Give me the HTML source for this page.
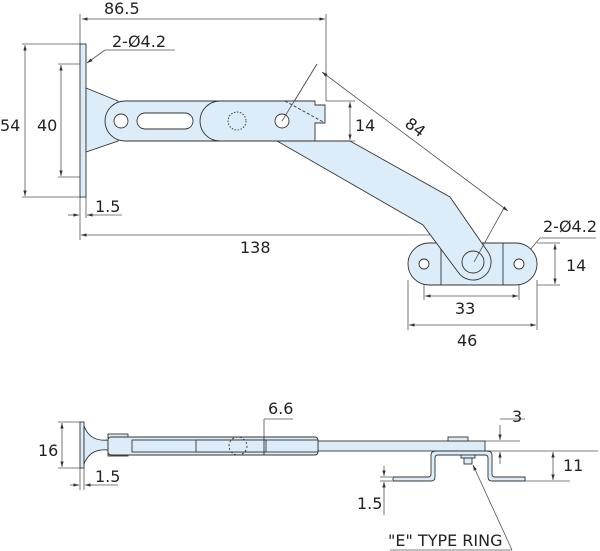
<!DOCTYPE html>
<html><head><style>
html,body{margin:0;padding:0;background:#fff;}
svg{display:block;}
text{font-family:"DejaVu Sans","Liberation Sans",sans-serif;font-size:16px;fill:#222;}
</style></head><body>
<svg width="600" height="551" viewBox="0 0 600 551" xmlns="http://www.w3.org/2000/svg">
<defs>
<marker id="a" viewBox="0 0 10 10" refX="10" refY="5" markerWidth="7" markerHeight="7" orient="auto-start-reverse"><path d="M0,2 L10,5 L0,8 z" fill="#333"/></marker>
</defs>
<g stroke="#555" stroke-width="0.8" fill="none">
<line x1="80" y1="14" x2="80" y2="44"/><line x1="326" y1="14" x2="326" y2="101"/>
<line x1="82" y1="19" x2="325" y2="19" marker-start="url(#a)" marker-end="url(#a)"/>
<line x1="22" y1="44" x2="80" y2="44"/><line x1="22" y1="197" x2="80" y2="197"/>
<line x1="25" y1="45" x2="25" y2="196" marker-start="url(#a)" marker-end="url(#a)"/>
<line x1="58" y1="64" x2="80" y2="64"/><line x1="58" y1="177" x2="80" y2="177"/>
<line x1="61" y1="65" x2="61" y2="176" marker-start="url(#a)" marker-end="url(#a)"/>
<line x1="175" y1="50" x2="105" y2="50"/><line x1="105" y1="50" x2="87" y2="63" marker-end="url(#a)"/>
<line x1="80" y1="197" x2="80" y2="240"/><line x1="86" y1="197" x2="86" y2="218"/>
<line x1="68" y1="215" x2="79" y2="215" marker-end="url(#a)"/><line x1="98" y1="215" x2="87" y2="215" marker-end="url(#a)"/><line x1="98" y1="215" x2="122" y2="215"/>
<line x1="81" y1="235" x2="471" y2="235" marker-start="url(#a)" marker-end="url(#a)"/>
<line x1="326" y1="101" x2="355" y2="101"/><line x1="320" y1="141" x2="355" y2="141"/>
<line x1="350" y1="102" x2="350" y2="140" marker-start="url(#a)" marker-end="url(#a)"/>
<line x1="317" y1="64" x2="282" y2="121"/>
<line x1="322" y1="72" x2="508" y2="211" marker-start="url(#a)" marker-end="url(#a)"/>
<line x1="596" y1="238" x2="540" y2="238"/><line x1="540" y1="238" x2="507" y2="277"/>
<line x1="537" y1="243" x2="560" y2="243"/><line x1="537" y1="285" x2="560" y2="285"/>
<line x1="555" y1="244" x2="555" y2="284" marker-start="url(#a)" marker-end="url(#a)"/>
<line x1="424" y1="268" x2="424" y2="300"/><line x1="519" y1="268" x2="519" y2="300"/>
<line x1="425" y1="296" x2="518" y2="296" marker-start="url(#a)" marker-end="url(#a)"/>
<line x1="408" y1="280" x2="408" y2="330"/><line x1="537" y1="280" x2="537" y2="330"/>
<line x1="409" y1="325" x2="536" y2="325" marker-start="url(#a)" marker-end="url(#a)"/>
<line x1="58" y1="422" x2="80" y2="422"/><line x1="58" y1="468" x2="80" y2="468"/>
<line x1="62" y1="423" x2="62" y2="467" marker-start="url(#a)" marker-end="url(#a)"/>
<line x1="80" y1="468" x2="80" y2="490"/><line x1="84" y1="468" x2="84" y2="490"/>
<line x1="70" y1="485" x2="79" y2="485" marker-end="url(#a)"/><line x1="96" y1="485" x2="85" y2="485" marker-end="url(#a)"/><line x1="96" y1="485" x2="118" y2="485"/>
<line x1="264" y1="419" x2="293" y2="419"/><line x1="264" y1="419" x2="264" y2="454"/>
<line x1="485" y1="441" x2="520" y2="441"/><line x1="485" y1="451" x2="598" y2="451"/>
<line x1="500" y1="419" x2="525" y2="419"/>
<line x1="500" y1="425" x2="500" y2="440" marker-end="url(#a)"/><line x1="500" y1="464" x2="500" y2="452" marker-end="url(#a)"/>
<line x1="525" y1="481" x2="570" y2="481"/>
<line x1="553" y1="452" x2="553" y2="480" marker-start="url(#a)" marker-end="url(#a)"/>
<line x1="380" y1="477" x2="392" y2="477"/><line x1="380" y1="481" x2="392" y2="481"/>
<line x1="384" y1="466" x2="384" y2="476" marker-end="url(#a)"/><line x1="384" y1="492" x2="384" y2="482" marker-end="url(#a)"/><line x1="384" y1="492" x2="384" y2="515"/>
<line x1="473" y1="465" x2="512" y2="550" marker-start="url(#a)"/>
<line x1="390" y1="550" x2="512" y2="550"/>
</g>
<g stroke="#333" stroke-width="0.9" fill="#dcedf9">
<rect x="80" y="44" width="6" height="153"/>
<path d="M86,88 L118,101 L118,141 L86,152 Z"/>
<rect x="408" y="243" width="129" height="42" rx="21"/>
<line x1="441" y1="243" x2="441" y2="285"/><line x1="503" y1="243" x2="503" y2="285"/>
<circle cx="424" cy="264" r="5" fill="#fff"/><circle cx="519" cy="264" r="5" fill="#fff"/>
<line x1="441" y1="243" x2="473" y2="243" stroke-dasharray="3,2" fill="none"/>
<path d="M350,141 L450,197 L488,252 A16,16 0 0 1 458,272 L423,225 L277,141 Z"/>
<circle cx="473" cy="262" r="11" fill="none"/>
<line x1="504" y1="208" x2="474" y2="262" stroke="#555" stroke-width="0.8" fill="none"/>
<path d="M125,101 L315,101 L315,105 L325,105 L325,123 L315,123 L315,141 L125,141 A20,20 0 0 1 125,101 Z"/>
<path d="M220,101 A20,20 0 0 0 220,141" fill="none"/>
<circle cx="121" cy="121" r="7" fill="#fff"/>
<rect x="137" y="113" width="56" height="16" rx="8" fill="#fff"/>
<circle cx="282" cy="121" r="7" fill="#fff"/>
<circle cx="237" cy="121" r="9" fill="none" stroke-dasharray="1.5,1.5"/>
<line x1="285" y1="101" x2="325" y2="123" stroke-dasharray="3,2" fill="none"/>
<line x1="317" y1="64" x2="282" y2="121" stroke="#555" stroke-width="0.8" fill="none"/>
<rect x="80" y="422" width="4" height="46"/>
<path d="M84,426 Q90,442 108,440 L108,450 Q90,448 84,464 Z"/>
<rect x="108" y="434" width="20" height="4"/><rect x="108" y="452" width="20" height="4"/>
<rect x="318" y="441" width="167" height="10"/>
<rect x="108" y="437" width="210" height="18" rx="3"/>
<rect x="132" y="440" width="186" height="12"/>
<rect x="196" y="440" width="70" height="12"/>
<circle cx="238" cy="446" r="9" fill="none" stroke-dasharray="2,2"/>
<line x1="264" y1="437" x2="264" y2="455"/>
<rect x="448" y="437" width="20" height="4"/>
<path d="M393,477 L428,477 Q431,477 431,474 L431,455 Q431,451 436,451 L487,451 Q492,451 492,455 L492,474 Q492,477 495,477 L525,477 L525,481 L492,481 Q488,481 488,477 L488,458 Q488,455 485,455 L438,455 Q435,455 435,458 L435,477 Q435,481 431,481 L393,481 Z"/>
<rect x="461" y="455" width="14" height="3"/><rect x="464" y="458" width="8" height="6"/>
</g>
<text x="104" y="14">86.5</text>
<text x="112" y="47">2-Ø4.2</text>
<text x="0" y="131">54</text>
<text x="37" y="131">40</text>
<text x="355" y="131">14</text>
<text x="404" y="135" transform="rotate(37 418 130)">84</text>
<text x="95" y="212">1.5</text>
<text x="240" y="253">138</text>
<text x="543" y="232">2-Ø4.2</text>
<text x="566" y="271">14</text>
<text x="455" y="314">33</text>
<text x="457" y="346">46</text>
<text x="268" y="414">6.6</text>
<text x="512" y="422">3</text>
<text x="563" y="471">11</text>
<text x="38" y="456">16</text>
<text x="95" y="482">1.5</text>
<text x="357" y="509">1.5</text>
<text x="388" y="546">"E" TYPE RING</text>
</svg>
</body></html>
